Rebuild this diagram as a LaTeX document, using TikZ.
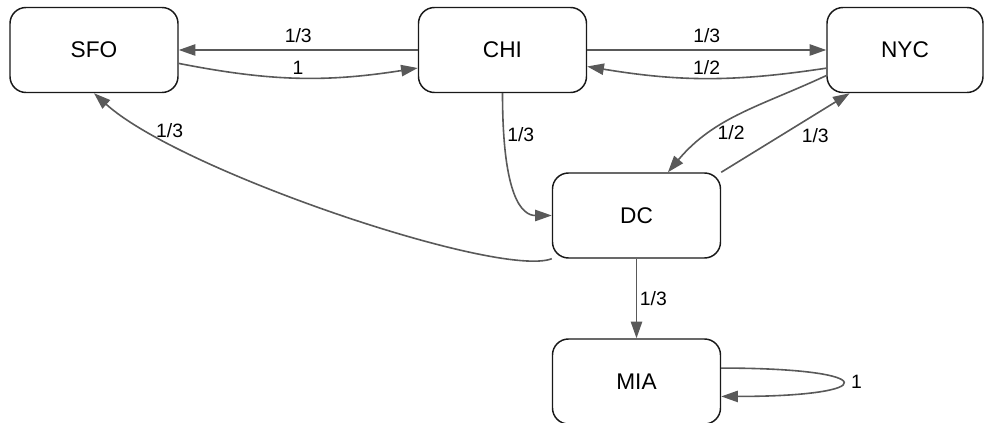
\documentclass[tikz,border=0pt]{standalone}
\usepackage{fontspec}
\setmainfont{Liberation Sans}
\usetikzlibrary{arrows.meta}
\usetikzlibrary{positioning}

\begin{document}
\begin{tikzpicture}[x=0.75pt,y=0.75pt,
  city/.style={draw=black!90,line width=1.1pt,rounded corners=12pt,
    minimum width=126pt,minimum height=63.75pt,
    font=\fontsize{17}{20}\selectfont},
  link/.style={draw=black!65,line width=1.2pt,
    -{Triangle[length=12.5pt,width=8.5pt]}},
  prob/.style={font=\fontsize{14.5}{17}\selectfont,inner sep=2pt,text=black}]
  \useasboundingbox (0,0) rectangle (985,-423);
  \node[city] (SFO) at (94,-50) {SFO};
  \node[city] (CHI) at (502.5,-50) {CHI};
  \node[city,minimum width=117pt] (NYC) at (905,-50) {NYC};
  \node[city] (DC) at (636.5,-215.5) {DC};
  \node[city] (MIA) at (636.5,-381.5) {MIA};

  \draw[link] (CHI.west) -- node[prob,above=3pt] {1/3} (SFO.east);
  \draw[link] (SFO.-9) to[bend right=10] node[prob,above] {1} (CHI.-168);
  \draw[link] (CHI.east) -- node[prob,above=3pt] {1/3} (NYC.west);
  \draw[link] (NYC.193) to[bend left=9] node[prob,above] {1/2} (CHI.-11);
  \draw[link] (CHI.south) to[out=-90,in=180,out distance=79pt,in distance=22pt]
    node[prob,right,pos=0.15] {1/3} (DC.west);
  \draw[link] (DC.south west) .. controls +(-52,-20) and +(86,-78) ..
    node[prob,pos=0.8,above=1pt] {1/3} (SFO.south);
  \draw[link] (NYC.198) to[out=205,in=50] node[prob,pos=0.7,right=3pt] {1/2} (DC.54);
  \draw[link] (DC.north east) -- node[prob,pos=0.6,below right] {1/3} (NYC.218);
  \draw[link] (DC.south) -- node[prob,right] {1/3} (MIA.north);
  \draw[link] (MIA.9) to[out=0,in=0,distance=121pt] node[prob,right=4pt] {1} (MIA.-10);
\end{tikzpicture}
\end{document}
